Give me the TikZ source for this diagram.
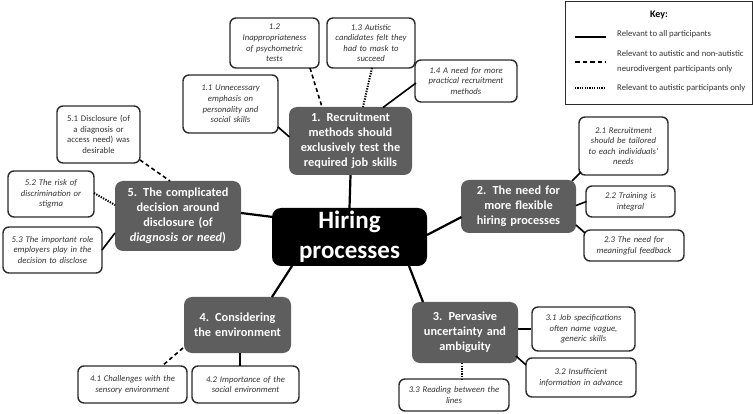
\documentclass[tikz,border=0pt]{standalone}
\usepackage{fontspec}
\setmainfont{Carlito}
\definecolor{themegray}{HTML}{5E5E5E}
\definecolor{subtext}{HTML}{333333}
\definecolor{subline}{HTML}{2B2B2B}
\begin{document}
\begin{tikzpicture}[x=1pt,y=-1pt,
  central/.style={fill=black,rounded corners=9pt,text=white,font=\fontsize{25}{30}\selectfont\bfseries,align=center,inner sep=0pt},
  theme/.style={fill=themegray,rounded corners=8pt,text=white,font=\fontsize{12.3}{15}\selectfont\bfseries,align=center,inner sep=0pt},
  sub/.style={draw=subline,fill=white,line width=1.4pt,rounded corners=6pt,text=subtext,font=\fontsize{8.7}{10.6}\selectfont\itshape,align=center,inner sep=0pt},
  conn/.style={line width=2.2pt},
  sconn/.style={line width=1.6pt},
  dconn/.style={line width=1.6pt,dash pattern=on 4pt off 3pt},
  oconn/.style={line width=2pt,dash pattern=on 1.3pt off 1.3pt},
  keytext/.style={font=\fontsize{8.7}{14.5}\selectfont,text=subtext,anchor=west,inner sep=0pt,align=left}
]
\useasboundingbox (0,0) rectangle (753,414);

% central
\node[central,minimum width=155,minimum height=58,text width=150] (c) at (349.5,237) {Hiring\\processes};

% themes
\node[theme,minimum width=123,minimum height=68,text width=118] (t1) at (350.5,141) {1. Recruitment\\methods should\\exclusively test the\\required job skills};
\node[theme,minimum width=115,minimum height=53,text width=110] (t2) at (518.5,206.5) {2. The need for\\more flexible\\hiring processes};
\node[theme,minimum width=106,minimum height=61,text width=102] (t3) at (465,332.5) {3. Pervasive\\uncertainty and\\ambiguity};
\node[theme,minimum width=107,minimum height=56,text width=102] (t4) at (237.5,325) {4. Considering\\the environment};
\node[theme,minimum width=126,minimum height=70,text width=122] (t5) at (178,216) {5. The complicated\\decision around\\disclosure (of\\\textit{diagnosis or need})};

% subthemes
\node[sub,minimum width=95,minimum height=58,text width=90] (s11) at (230.5,104) {1.1 Unnecessary\\emphasis on\\personality and\\social skills};
\node[sub,minimum width=89,minimum height=50,text width=86] (s12) at (274.5,43) {1.2\\Inappropriateness\\of psychometric\\tests};
\node[sub,minimum width=88,minimum height=50,text width=86] (s13) at (371,43) {1.3 Autistic\\candidates felt they\\had to mask to\\succeed};
\node[sub,minimum width=102,minimum height=42,text width=98] (s14) at (466,81) {1.4 A need for more\\practical recruitment\\methods};

\node[sub,minimum width=89,minimum height=58,text width=86] (s21) at (623.5,146) {2.1 Recruitment\\should be tailored\\to each individuals'\\needs};
\node[sub,minimum width=89,minimum height=31,text width=86] (s22) at (630.5,201.5) {2.2 Training is\\integral};
\node[sub,minimum width=100,minimum height=31,text width=97] (s23) at (634,245.5) {2.3 The need for\\meaningful feedback};

\node[sub,minimum width=103,minimum height=44,text width=100] (s31) at (583.5,329) {3.1 Job specifications\\often name vague,\\generic skills};
\node[sub,minimum width=110,minimum height=39,text width=107] (s32) at (581,377.5) {3.2 Insufficient\\information in advance};
\node[sub,minimum width=110,minimum height=32,text width=107] (s33) at (454,395) {3.3 Reading between the\\lines};

\node[sub,minimum width=109,minimum height=37,text width=106] (s41) at (132.5,384.5) {4.1 Challenges with the\\sensory environment};
\node[sub,minimum width=107,minimum height=37,text width=104] (s42) at (245.5,384.5) {4.2 Importance of the\\social environment};

\node[sub,minimum width=83,minimum height=57,text width=80,font=\fontsize{8.7}{10.6}\selectfont\upshape] (s51) at (98.5,134.5) {5.1 Disclosure (of\\a diagnosis or\\access need) was\\desirable};
\node[sub,minimum width=86,minimum height=46,text width=83] (s52) at (51,194) {5.2 The risk of\\discrimination or\\stigma};
\node[sub,minimum width=99,minimum height=46,text width=97] (s53) at (52.5,250) {5.3 The important role\\employers play in the\\decision to disclose};

% central connectors
\draw[conn] (t1.south) -- (c.north);
\coordinate (c2a) at (427,235);
\coordinate (c2b) at (461.5,217);
\draw[conn] (c2a) -- (c2b);
\coordinate (c3a) at (409,266);
\coordinate (c3b) at (423,302);
\draw[conn] (c3a) -- (c3b);
\coordinate (c4a) at (292,266);
\coordinate (c4b) at (272,297);
\draw[conn] (c4a) -- (c4b);
\coordinate (c5a) at (241,213);
\coordinate (c5b) at (273,217);
\draw[conn] (c5a) -- (c5b);

% theme 1 connectors
\draw[sconn] (278,127) -- (289.5,137);
\draw[dconn] (310,68) -- (322,107);
\draw[oconn] (372,68) -- (363,107);
\draw[sconn] (416,83) -- (383,107.5);

% theme 2 connectors
\draw[sconn] (572,181) -- (581,172);
\draw[sconn] (576,205.5) -- (586.5,201.5);
\draw[sconn] (576,225) -- (585,233);

% theme 3 connectors
\draw[sconn] (t3.east |- s31.west) -- (s31.west);
\draw[sconn] (516,356) -- (526,365);
\draw[oconn] (462,363) -- (462,379);

% theme 4 connectors
\draw[dconn] (183,348) -- (162,366);
\draw[sconn] (240,353) -- (240,366);

% theme 5 connectors
\draw[dconn] (140,160) -- (170,181);
\draw[oconn] (94,193) -- (115,205);
\draw[sconn] (102,250) -- (115,233);

% key
\node[draw=subline,line width=1pt,minimum width=187,minimum height=103,inner sep=0pt] (key) at (658.5,53.5) {};
\node[font=\fontsize{10}{12}\selectfont\bfseries,text=black] (keyt) at (659,15) {Key:};
\coordinate (k1a) at (575,37); \coordinate (k1b) at (606,37);
\coordinate (k2a) at (575,62); \coordinate (k2b) at (606,62);
\coordinate (k3a) at (575,88); \coordinate (k3b) at (606,88);
\draw[line width=1.6pt] (k1a) -- (k1b);
\draw[line width=1.2pt,dash pattern=on 4.5pt off 3pt] (k2a) -- (k2b);
\draw[line width=1.2pt,dash pattern=on 1.2pt off 1.2pt] (k3a) -- (k3b);
\node[keytext] (kt1) at (617,34) {Relevant to all participants};
\node[keytext] (kt2) at (617,61.5) {Relevant to autistic and non-autistic\\neurodivergent participants only};
\node[keytext] (kt3) at (617,88) {Relevant to autistic participants only};
\end{tikzpicture}
\end{document}
